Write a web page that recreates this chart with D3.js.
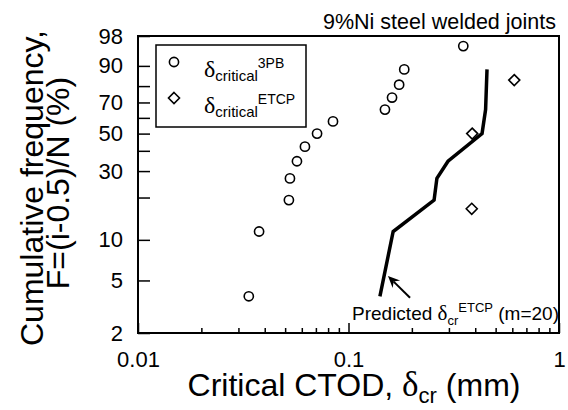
<!DOCTYPE html>
<html>
<head>
<meta charset="utf-8">
<script src="https://cdn.jsdelivr.net/npm/d3@7"></script>
<style>
    body { margin: 0; background: #fff; }
    svg text { font-family: "Liberation Sans", Arial, sans-serif; fill: #000; }
    .greek { font-family: "Liberation Serif", "Times New Roman", serif; }
</style>
</head>
<body>
<svg id="chart" width="568" height="410"></svg>
<script>
//data
const ctod_3pb = [0.0336, 0.0376, 0.0521, 0.0527, 0.0569, 0.0621, 0.0709, 0.0844, 0.149, 0.161, 0.174, 0.184, 0.351];
const freq_3pb = [3.8, 11.5, 19.2, 26.9, 34.6, 42.3, 50.0, 57.7, 65.4, 73.1, 80.8, 88.5, 96.2];
const ctod_etcp = [0.385, 0.387, 0.613];
const freq_etcp = [16.7, 50.0, 83.3];
const ctod_pred = [0.141, 0.163, 0.255, 0.263, 0.297, 0.431, 0.448, 0.455];
const freq_pred = [3.8, 11.5, 19.2, 26.9, 34.6, 50.0, 65.4, 88.5];

const yTicks = [2, 5, 10, 20, 30, 40, 50, 60, 70, 80, 90, 98];
const yLabels = [2, 5, 10, 30, 50, 70, 90, 98];
const xTicks = [0.01, 0.02, 0.03, 0.04, 0.05, 0.06, 0.07, 0.08, 0.09,
                0.1, 0.2, 0.3, 0.4, 0.5, 0.6, 0.7, 0.8, 0.9, 1];
const xLabels = [0.01, 0.1, 1];

//arrow annotation, in data units [ctod, freq]
const arrowFrom = [0.196, 3.7];
const arrowTo = [0.154, 5.4];

//chart globals
const mLeft = 138, mRight = 559, mTop = 36, mBottom = 333;

const svg = d3.select("#chart");

const xScale = d3.scaleLog()
                .domain([0.01, 1])
                .range([mLeft, mRight]);

// weibull probability paper: ln(-ln(1-F))
const weib = F => Math.log(-Math.log(1 - F / 100));
const yLin = d3.scaleLinear()
                .domain([weib(2), weib(98)])
                .range([mBottom, mTop]);
const yScale = F => yLin(weib(F));
yScale.copy = () => yScale;
yScale.range = () => yLin.range();
yScale.domain = () => [2, 98];

// x axis
const bottomAxis = d3.axisBottom(xScale)
                    .tickValues(xTicks)
                    .tickSizeInner(-10)
                    .tickSizeOuter(0)
                    .tickPadding(18)
                    .tickFormat(d => xLabels.includes(d) ? String(d) : "");

const gx = svg.append("g")
            .attr("transform", "translate(0," + mBottom + ")")
            .call(bottomAxis);
gx.select(".domain").remove();
gx.selectAll(".tick line")
    .attr("stroke-width", 1.5)
    .attr("y2", d => xLabels.includes(d) ? -10 : -5);
gx.selectAll(".tick text")
    .style("font-size", "22px");

// y axis
const leftAxis = d3.axisLeft(yScale)
                    .tickValues(yTicks)
                    .tickSizeInner(-12)
                    .tickSizeOuter(0)
                    .tickPadding(15)
                    .tickFormat(d => yLabels.includes(d) ? String(d) : "");

const gy = svg.append("g")
            .attr("transform", "translate(" + mLeft + ",0)")
            .call(leftAxis);
gy.select(".domain").remove();
gy.selectAll(".tick line").attr("stroke-width", 1.5);
gy.selectAll(".tick text")
    .style("font-size", "22px");

// frame
svg.append("rect")
    .attr("x", mLeft)
    .attr("y", mTop)
    .attr("width", mRight - mLeft)
    .attr("height", mBottom - mTop)
    .attr("fill", "none")
    .attr("stroke", "#000")
    .attr("stroke-width", 2);

// predicted line
const line = d3.line()
                .x(d => xScale(d[0]))
                .y(d => yScale(d[1]));

svg.append("path")
    .datum(d3.zip(ctod_pred, freq_pred))
    .attr("d", line)
    .attr("fill", "none")
    .attr("stroke", "#000")
    .attr("stroke-width", 3.5)
    .attr("stroke-linejoin", "miter");

// 3PB circles
svg.selectAll("circle.pb")
    .data(d3.zip(ctod_3pb, freq_3pb))
    .join("circle")
    .attr("class", "pb")
    .attr("cx", d => xScale(d[0]))
    .attr("cy", d => yScale(d[1]))
    .attr("r", 4.6)
    .attr("fill", "#fff")
    .attr("stroke", "#000")
    .attr("stroke-width", 1.6);

// ETCP diamonds
const diamond = (cx, cy, s) => `M${cx},${cy - s}L${cx + s},${cy}L${cx},${cy + s}L${cx - s},${cy}Z`;

svg.selectAll("path.etcp")
    .data(d3.zip(ctod_etcp, freq_etcp))
    .join("path")
    .attr("class", "etcp")
    .attr("d", d => diamond(xScale(d[0]), yScale(d[1]), 5.5))
    .attr("fill", "#fff")
    .attr("stroke", "#000")
    .attr("stroke-width", 1.6);

// arrow
const ax1 = xScale(arrowFrom[0]), ay1 = yScale(arrowFrom[1]);
const ax2 = xScale(arrowTo[0]), ay2 = yScale(arrowTo[1]);
const ang = Math.atan2(ay2 - ay1, ax2 - ax1);
const headLen = 13, headW = 0.42;
const b1 = [ax2 - headLen * Math.cos(ang - headW), ay2 - headLen * Math.sin(ang - headW)];
const b2 = [ax2 - headLen * Math.cos(ang + headW), ay2 - headLen * Math.sin(ang + headW)];
const notch = [ax2 - 8 * Math.cos(ang), ay2 - 8 * Math.sin(ang)];

svg.append("line")
    .attr("x1", ax1).attr("y1", ay1)
    .attr("x2", notch[0]).attr("y2", notch[1])
    .attr("stroke", "#000")
    .attr("stroke-width", 2);

svg.append("path")
    .attr("d", `M${ax2},${ay2}L${b1[0]},${b1[1]}L${notch[0]},${notch[1]}L${b2[0]},${b2[1]}Z`)
    .attr("fill", "#000");

// annotation text
const ann = svg.append("text")
                .attr("x", 352)
                .attr("y", 320)
                .style("font-size", "19px");
ann.append("tspan").text("Predicted ");
ann.append("tspan").attr("class", "greek").style("font-size", "21px").text("δ");
ann.append("tspan").style("font-size", "13px").attr("dy", 5).text("cr");
ann.append("tspan").style("font-size", "13px").attr("dy", -13).text("ETCP");
ann.append("tspan").attr("dy", 8).text(" (m=20)");

// title
svg.append("text")
    .attr("x", 556)
    .attr("y", 29)
    .attr("text-anchor", "end")
    .style("font-size", "21.5px")
    .text("9%Ni steel welded joints");

// legend
svg.append("rect")
    .attr("x", 156)
    .attr("y", 45)
    .attr("width", 150)
    .attr("height", 82)
    .attr("fill", "#fff")
    .attr("stroke", "#000")
    .attr("stroke-width", 1.5);

const legendNames = ["3PB", "ETCP"];
const legendY = [62, 98];

svg.append("circle")
    .attr("cx", 174)
    .attr("cy", legendY[0])
    .attr("r", 4.6)
    .attr("fill", "#fff")
    .attr("stroke", "#000")
    .attr("stroke-width", 1.6);

svg.append("path")
    .attr("d", diamond(174, legendY[1], 5.5))
    .attr("fill", "#fff")
    .attr("stroke", "#000")
    .attr("stroke-width", 1.6);

legendNames.forEach((name, i) => {
    const t = svg.append("text")
                .attr("x", 204)
                .attr("y", legendY[i] + 15)
                .style("font-size", "24px");
    t.append("tspan").attr("class", "greek").text("δ");
    t.append("tspan").style("font-size", "15px").attr("dy", 4).text("critical");
    t.append("tspan").style("font-size", "14px").attr("dy", -13).text(name);
});

// axis titles
const xt = svg.append("text")
            .attr("x", 354)
            .attr("y", 396)
            .attr("text-anchor", "middle")
            .style("font-size", "32px");
xt.append("tspan").text("Critical CTOD, ");
xt.append("tspan").attr("class", "greek").style("font-size", "35px").text("δ");
xt.append("tspan").style("font-size", "22px").attr("dy", 7).text("cr");
xt.append("tspan").attr("dy", -7).text(" (mm)");

svg.append("text")
    .attr("transform", "translate(43,188) rotate(-90)")
    .attr("text-anchor", "middle")
    .style("font-size", "32px")
    .text("Cumulative frequency,");

svg.append("text")
    .attr("transform", "translate(69,183) rotate(-90)")
    .attr("text-anchor", "middle")
    .style("font-size", "32px")
    .text("F=(i-0.5)/N (%)");
</script>
</body>
</html>
